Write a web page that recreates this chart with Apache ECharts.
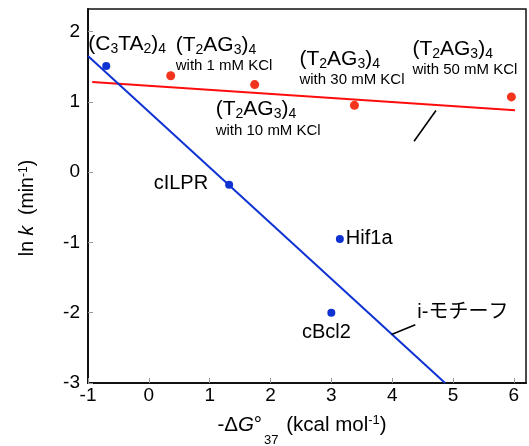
<!DOCTYPE html>
<html>

<head>
    <meta charset="utf-8">
    <script src="https://cdn.jsdelivr.net/npm/echarts@6/dist/echarts.min.js"></script>
    <style>
        html, body { margin: 0; padding: 0; background: #fff; }
        #main { width: 529px; height: 446px; }
    </style>
</head>

<body>
    <div id="main"></div>
</body>
<script>
    // blue: i-motif sequences
    var blueNames = ['C3TA2', 'cILPR', 'Hif1a', 'cBcl2'];
    var blueX = [-0.70, 1.32, 3.14, 3.00];
    var blueY = [1.51, -0.18, -0.95, -2.00];
    // red: (T2AG3)4 at different KCl (mM)
    var redKCl = [1, 10, 30, 50];
    var redX = [0.36, 1.74, 3.38, 5.96];
    var redY = [1.37, 1.245, 0.95, 1.07];
    // fitted lines (end points)
    var blueFitX = [-1, 4.87];
    var blueFitY = [1.65, -3];
    var redFitX = [-0.93, 6.02];
    var redFitY = [1.28, 0.88];
    // leader lines for the two fit labels
    var leadRedX = [4.36, 4.72];
    var leadRedY = [0.44, 0.875];
    var leadBlueX = [3.99, 4.38];
    var leadBlueY = [-2.31, -2.17];
    var motifName = 'i-モチーフ';

    var FONT = '"Liberation Sans", Arial, "Noto Sans CJK JP", sans-serif';
    var BLUE = '#0f32d2';
    var RED = '#f3341c';

    var rich = {
        b: { fontSize: 21, lineHeight: 24, fontFamily: FONT, color: '#000' },
        s: { fontSize: 14, lineHeight: 14, verticalAlign: 'bottom', fontFamily: FONT, color: '#000' },
        w: { fontSize: 15, lineHeight: 18, fontFamily: FONT, color: '#000' }
    };

    function pairs(xs, ys) {
        return xs.map(function (x, i) { return [x, ys[i]]; });
    }

    // label text and placement for each point
    var blueText = [
        '{b|(C}{s|3}{b|TA}{s|2}{b|)}{s|4}',
        'cILPR', 'Hif1a', 'cBcl2'
    ];
    var blueLabel = [
        { align: 'left', verticalAlign: 'top', offset: [-18, -34] },
        { align: 'right', verticalAlign: 'middle', offset: [-21, -1] },
        { align: 'left', verticalAlign: 'middle', offset: [6, 0] },
        { align: 'center', verticalAlign: 'middle', offset: [-5, 20] }
    ];
    var redLabel = [
        { offset: [5, -43] },
        { offset: [-39, 13] },
        { offset: [-55, -58] },
        { offset: [-99, -60] }
    ];

    var blueData = pairs(blueX, blueY).map(function (p, i) {
        return {
            value: p,
            label: Object.assign({
                show: true, position: 'inside', formatter: blueText[i],
                fontSize: 20, fontFamily: FONT, color: '#000', rich: rich
            }, blueLabel[i])
        };
    });
    var redData = pairs(redX, redY).map(function (p, i) {
        return {
            value: p,
            label: Object.assign({
                show: true, position: 'inside', align: 'left', verticalAlign: 'top',
                formatter: '{b|(T}{s|2}{b|AG}{s|3}{b|)}{s|4}\n{w|with ' + redKCl[i] + ' mM KCl}',
                rich: rich
            }, redLabel[i])
        };
    });

    var leadBlue = pairs(leadBlueX, leadBlueY);
    var leadBlueData = [leadBlue[0], {
        value: leadBlue[1],
        label: {
            show: true, position: 'inside', align: 'left', verticalAlign: 'middle',
            offset: [2, -12], formatter: motifName, fontSize: 20, fontFamily: FONT, color: '#000'
        }
    }];

    var myChart = echarts.init(document.getElementById('main'), null, { renderer: 'canvas' });
    myChart.setOption({
        animation: false,
        grid: {
            left: 88, right: 3, top: 9, bottom: 63,
            show: true, borderColor: '#111', borderWidth: 1.5
        },
        xAxis: {
            type: 'value', min: -1, max: 6.2, interval: 1,
            axisLine: { onZero: false, lineStyle: { color: '#111', width: 2 } },
            axisTick: { inside: true, length: 5, lineStyle: { color: '#999' } },
            splitLine: { show: false },
            axisLabel: { showMaxLabel: false, margin: 3, fontSize: 19, color: '#000', fontFamily: FONT }
        },
        yAxis: {
            type: 'value', min: -3, max: 2.32, interval: 1,
            axisLine: { onZero: false, lineStyle: { color: '#111', width: 2 } },
            axisTick: { inside: true, length: 5, lineStyle: { color: '#999' } },
            splitLine: { show: false },
            axisLabel: { showMaxLabel: false, margin: 8, fontSize: 19, color: '#000', fontFamily: FONT }
        },
        graphic: [
            {
                type: 'text', x: 302, y: 425,
                style: {
                    text: '{n|-Δ}{i|G}{n|°}{sb|37}{n| (kcal mol}{sp|-1}{n|)}',
                    align: 'center', verticalAlign: 'middle',
                    rich: {
                        n: { fontSize: 20.5, lineHeight: 44, fontFamily: FONT, fill: '#000' },
                        i: { fontSize: 20.5, lineHeight: 44, fontFamily: FONT, fontStyle: 'italic', fill: '#000' },
                        sb: { fontSize: 13, lineHeight: 12, verticalAlign: 'bottom', fontFamily: FONT, fill: '#000', padding: [0, 2, 0, 2] },
                        sp: { fontSize: 13, lineHeight: 12, padding: [0, 0, 9, 0], fontFamily: FONT, fill: '#000' }
                    }
                }
            },
            {
                type: 'text', x: 28, y: 208, rotation: Math.PI / 2,
                style: {
                    text: '{n|ln }{i|k}{n|  (min}{sp|-1}{n|)}',
                    align: 'center', verticalAlign: 'middle',
                    rich: {
                        n: { fontSize: 19.5, lineHeight: 24, fontFamily: FONT, fill: '#000' },
                        i: { fontSize: 19.5, lineHeight: 24, fontFamily: FONT, fontStyle: 'italic', fill: '#000' },
                        sp: { fontSize: 12, lineHeight: 12, padding: [0, 0, 9, 0], fontFamily: FONT, fill: '#000' }
                    }
                }
            }
        ],
        series: [
            {
                type: 'line', data: pairs(redFitX, redFitY), symbol: 'none',
                lineStyle: { color: '#ff0d0d', width: 2 }, silent: true, z: 2
            },
            {
                type: 'line', data: pairs(blueFitX, blueFitY), symbol: 'none',
                lineStyle: { color: BLUE, width: 2 }, silent: true, z: 2
            },
            {
                type: 'line', data: pairs(leadRedX, leadRedY), symbol: 'none',
                lineStyle: { color: '#000', width: 1.6 }, silent: true, z: 2
            },
            {
                type: 'line', data: leadBlueData, symbol: 'circle', symbolSize: 0, showSymbol: true,
                lineStyle: { color: '#000', width: 1.6 }, silent: true, z: 2
            },
            {
                type: 'scatter', data: blueData, symbolSize: 8,
                itemStyle: { color: BLUE, opacity: 1 }, z: 3
            },
            {
                type: 'scatter', data: redData, symbolSize: 9,
                itemStyle: { color: RED, opacity: 1 }, z: 3
            }
        ]
    });
</script>

</html>
